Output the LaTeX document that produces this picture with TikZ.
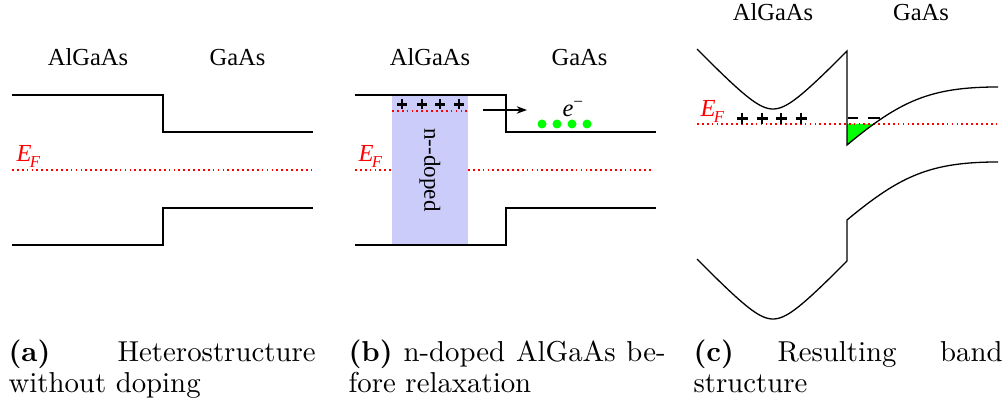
\documentclass[tikz,border=0pt]{standalone}
\usepackage{fontspec}
\newfontfamily\timesf{Liberation Serif}
\usetikzlibrary{arrows.meta}
\definecolor{dopeblue}{RGB}{204,204,250}
\begin{document}
\begin{tikzpicture}[x=0.3472pt, y=-0.3472pt,
  bandline/.style={line width=0.45pt},
  fermi/.style={red, line width=0.5pt, dash pattern=on 0.6pt off 1.1pt},
  lbl/.style={font=\timesf\fontsize{8.5}{10}\selectfont, inner sep=0pt, anchor=base},
  efl/.style={red, font=\timesf\itshape\fontsize{8.5}{10}\selectfont, inner sep=0pt, anchor=base west},
  pm/.style={line width=0.8pt},
  captext/.style={inner sep=0pt, anchor=base west},
  edot/.style={fill=green}
]
\useasboundingbox (0,0) rectangle (1008,409);

% ---------- panel (a) ----------
\node[lbl] (a1) at (88,66) {AlGaAs};
\node[lbl] (a2) at (237.5,66) {GaAs};
\draw[bandline] (12,95) -- (163,95) -- (163,132) -- (313,132);
\draw[bandline] (12,245) -- (163,245) -- (163,208) -- (313,208);
\draw[fermi] (12,170) -- (313,170);
\node[efl] (aef) at (16,162) {E\kern-0.6pt\raisebox{-1.8pt}{\fontsize{5.8}{6}\selectfont F}};

% ---------- panel (b) ----------
\fill[dopeblue] (392,95) rectangle (468,245);
\node[lbl] (b1) at (430,66) {AlGaAs};
\node[lbl] (b2) at (579.5,66) {GaAs};
\draw[bandline] (355,95) -- (506,95) -- (506,132) -- (656,132);
\draw[bandline] (355,245) -- (506,245) -- (506,208) -- (656,208);
\draw[fermi] (355,170) -- (392,170);
\draw[fermi] (468,170) -- (654,170);
\draw[fermi] (392,111) -- (468,111);
\node[efl] (bef) at (358,162) {E\kern-0.6pt\raisebox{-1.8pt}{\fontsize{5.8}{6}\selectfont F}};
\foreach \px in {402,422,440,459} {
  \draw[pm] (\px-5,104.5) -- (\px+5,104.5) (\px,99.5) -- (\px,109.5);
}
\node[font=\timesf\fontsize{8}{10}\selectfont, rotate=-90, inner sep=0pt] (nd) at (430,170) {n--doped};
\coordinate (arrs) at (483,110);
\coordinate (arre) at (527,110);
\draw[line width=0.45pt, -{Stealth[length=3.6pt,width=2.6pt]}] (arrs) -- (arre);
\node[font=\timesf\itshape\fontsize{8.5}{10}\selectfont, inner sep=0pt, anchor=base west] (el) at (562,117) {e\raisebox{3.2pt}{\upshape\fontsize{6}{6}\selectfont −}};
\foreach \px in {542,557,572,587} {
  \fill[edot] (\px,124) circle (4.5);
}

% ---------- panel (c) ----------
\node[lbl] (c1) at (773,21) {AlGaAs};
\node[lbl] (c2) at (921,21) {GaAs};
\fill[green] (847,124) -- (873.7,124) -- (847,145) -- cycle;
\draw[fermi] (697,124) -- (998,124);
\draw[bandline] plot[domain=697:847, samples=80] (\x, {109 - 23.1*(sqrt(1+((\x-773)/22)^2)-1)})
  -- (847,145) .. controls (900,101) and (930,87) .. (998,87);
\draw[bandline] plot[domain=697:847, samples=80] (\x, {319 - 23.1*(sqrt(1+((\x-773)/22)^2)-1)})
  -- (847,220) .. controls (900,176) and (930,162) .. (998,162);
\node[efl] (cef) at (700,117) {E\kern-0.6pt\raisebox{-1.8pt}{\fontsize{5.8}{6}\selectfont F}};
\foreach \px in {742,762,781,801} {
  \draw[pm] (\px-5.5,118.5) -- (\px+5.5,118.5) (\px,113) -- (\px,124);
}
\draw[pm] (848,118) -- (858,118);
\draw[pm] (868,118) -- (880,118);

% ---------- captions ----------
\node[captext] (capa1) at (8,362) {\makebox[106.6pt][s]{\textbf{(a)} Heterostructure}};
\node[captext] (capa2) at (8,393) {without doping};
\node[captext] (capb1) at (348,362) {\makebox[110.1pt][s]{\textbf{(b)} n-doped AlGaAs be-}};
\node[captext] (capb2) at (348,393) {fore relaxation};
\node[captext] (capc1) at (693,362) {\makebox[107.3pt][s]{\textbf{(c)} Resulting band}};
\node[captext] (capc2) at (693,393) {structure};
\end{tikzpicture}
\end{document}
